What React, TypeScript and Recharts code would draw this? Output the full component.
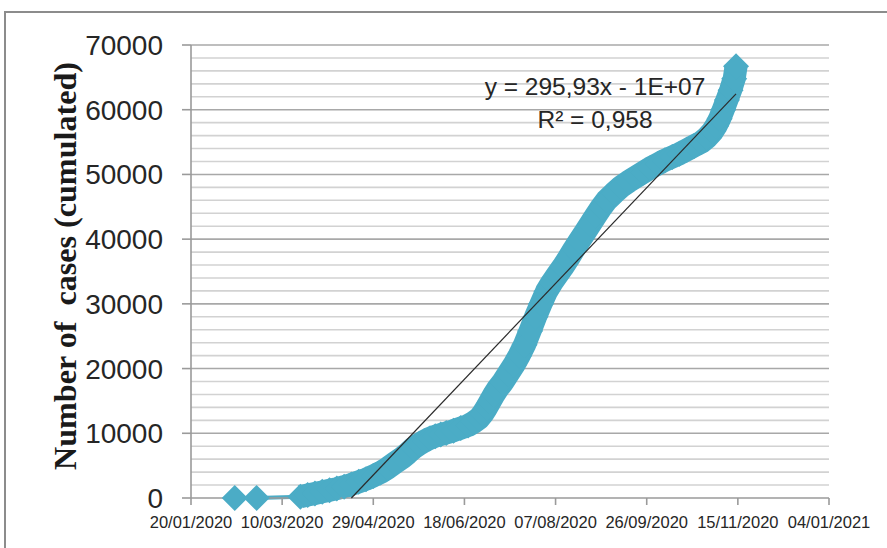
import React from 'react';
import { ComposedChart, Line, Scatter, XAxis, YAxis, CartesianGrid } from 'recharts';

// x values are days since 20/01/2020
const xTickDays = [0, 50, 100, 150, 200, 250, 300, 350];
const xTickLabels = ['20/01/2020', '10/03/2020', '29/04/2020', '18/06/2020', '07/08/2020', '26/09/2020', '15/11/2020', '04/01/2021'];
const yMajorTicks = [0, 10000, 20000, 30000, 40000, 50000, 60000, 70000];
const yMinorStep = 2000;

const earlyDays = [24, 36];
const earlyCases = [1, 3];

const mainDays = [
  60, 64, 68, 72, 76, 80, 84, 88, 92, 96, 100, 104, 108, 112, 116, 119, 122, 125, 128, 131,
  134, 137, 140, 144, 148, 152, 155, 158, 160, 162, 164, 166, 168, 171, 174, 177, 180, 183, 186, 189,
  192, 195, 198, 201, 204, 207, 210, 213, 216, 219, 222, 225, 228, 232, 236, 240, 244, 248, 252, 256,
  260, 264, 268, 272, 276, 280, 283, 286, 288, 290, 292, 294, 296, 298, 299,
];
const mainCases = [
  200, 450, 700, 950, 1200, 1450, 1750, 2100, 2500, 2900, 3400, 3950, 4650, 5450, 6250, 6950, 7700, 8300, 8800, 9200,
  9550, 9800, 10050, 10400, 10800, 11200, 11700, 12300, 13000, 13900, 14900, 15900, 16800, 17900, 19200, 20500, 22000, 23700, 25800, 28000,
  30000, 31900, 33300, 34500, 35700, 37000, 38400, 39700, 41000, 42300, 43600, 44900, 46000, 47100, 48100, 48900, 49600, 50300, 51000, 51600,
  52200, 52700, 53200, 53800, 54400, 55000, 55700, 56600, 57500, 58600, 60000, 61500, 63000, 64800, 66700,
];

const trendDays = [88, 299];
const trendCases = [0, 62450];

const COLOR = '#4BACC6';

const allPoints = [
  ...earlyDays.map((d, i) => ({ day: d, cases: earlyCases[i] })),
  ...mainDays.map((d, i) => ({ day: d, cases: mainCases[i] })),
];
const bandPoints = mainDays.map((d, i) => ({ day: d, cases: mainCases[i] }));
const connectorPoints = [
  { day: earlyDays[earlyDays.length - 1], cases: earlyCases[earlyCases.length - 1] },
  { day: mainDays[0], cases: mainCases[0] },
];
const trendPoints = trendDays.map((d, i) => ({ day: d, cases: trendCases[i] }));

const minorValues: number[] = [];
for (let v = yMinorStep; v < 70000; v += yMinorStep) {
  if (v % 10000 !== 0) minorValues.push(v);
}
const majorValues = yMajorTicks.filter((v) => v > 0);

const Diamond = (props: any) => {
  const { cx, cy } = props;
  if (cx == null || cy == null) return null;
  const r = 13;
  return <path d={`M${cx},${cy - r}L${cx + r},${cy}L${cx},${cy + r}L${cx - r},${cy}Z`} fill={COLOR} />;
};

const NoShape = () => <g />;

const fmtX = (v: number) => {
  const i = xTickDays.indexOf(v);
  return i >= 0 ? xTickLabels[i] : '';
};

export default function App() {
  return (
    <div style={{ position: 'absolute', left: 0, top: 0, width: 887, height: 548, background: '#fff', overflow: 'hidden' }}>
      <div style={{ position: 'absolute', left: 4, top: 11, width: 1000, height: 1000, borderLeft: '2px solid #8c8c8c', borderTop: '2px solid #8c8c8c' }} />
      <ComposedChart
        width={887}
        height={548}
        margin={{ top: 45, right: 58, bottom: 0, left: 81 }}
        style={{ position: 'absolute', left: 0, top: 0 }}
      >
        <CartesianGrid horizontalValues={minorValues} vertical={false} stroke="#d2d2d2" strokeWidth={1.6} />
        <CartesianGrid horizontalValues={majorValues} vertical={false} stroke="#a8a8a8" strokeWidth={1.6} />
        <XAxis
          dataKey="day"
          type="number"
          domain={[0, 350]}
          ticks={xTickDays}
          tickFormatter={fmtX}
          interval={0}
          height={50}
          tickSize={7}
          tickMargin={11}
          axisLine={{ stroke: '#9a9a9a', strokeWidth: 1.6 }}
          tickLine={{ stroke: '#9a9a9a', strokeWidth: 1.6 }}
          tick={{ fill: '#262626', fontSize: 16.5, fontFamily: 'Liberation Sans' }}
        />
        <YAxis
          type="number"
          domain={[0, 70000]}
          ticks={yMajorTicks}
          interval={0}
          width={110}
          tickSize={9}
          tickMargin={19}
          axisLine={{ stroke: '#9a9a9a', strokeWidth: 1.6 }}
          tickLine={{ stroke: '#9a9a9a', strokeWidth: 1.6 }}
          tick={{ fill: '#262626', fontSize: 28, fontFamily: 'Liberation Sans' }}
        />
        <Line data={connectorPoints} dataKey="cases" stroke={COLOR} strokeWidth={4} dot={false} activeDot={false} isAnimationActive={false} />
        <Line data={bandPoints} dataKey="cases" stroke={COLOR} strokeWidth={23} strokeLinejoin="round" dot={false} activeDot={false} isAnimationActive={false} />
        <Scatter data={allPoints} dataKey="cases" fill={COLOR} shape={Diamond} isAnimationActive={false} />
        <Scatter
          data={trendPoints}
          dataKey="cases"
          fill="none"
          stroke="#2b2b2b"
          line={{ stroke: '#2b2b2b', strokeWidth: 1.2, fill: 'none' }}
          shape={NoShape}
          isAnimationActive={false}
        />
      </ComposedChart>
      <svg width={887} height={548} style={{ position: 'absolute', left: 0, top: 0, pointerEvents: 'none' }}>
        <text
          transform="translate(76,266) rotate(-90)"
          textAnchor="middle"
          fontFamily="Liberation Serif"
          fontWeight={700}
          fontSize={31}
          textLength={408}
          lengthAdjust="spacingAndGlyphs"
          fill="#1a1a1a"
          style={{ whiteSpace: 'pre' }}
        >
          {'Number of  cases (cumulated)'}
        </text>
        <text x={595} y={95} textAnchor="middle" fontFamily="Liberation Sans" fontSize={24.5} fill="#262626">
          y = 295,93x - 1E+07
        </text>
        <text x={595} y={128} textAnchor="middle" fontFamily="Liberation Sans" fontSize={24.5} fill="#262626">
          R² = 0,958
        </text>
      </svg>
    </div>
  );
}
